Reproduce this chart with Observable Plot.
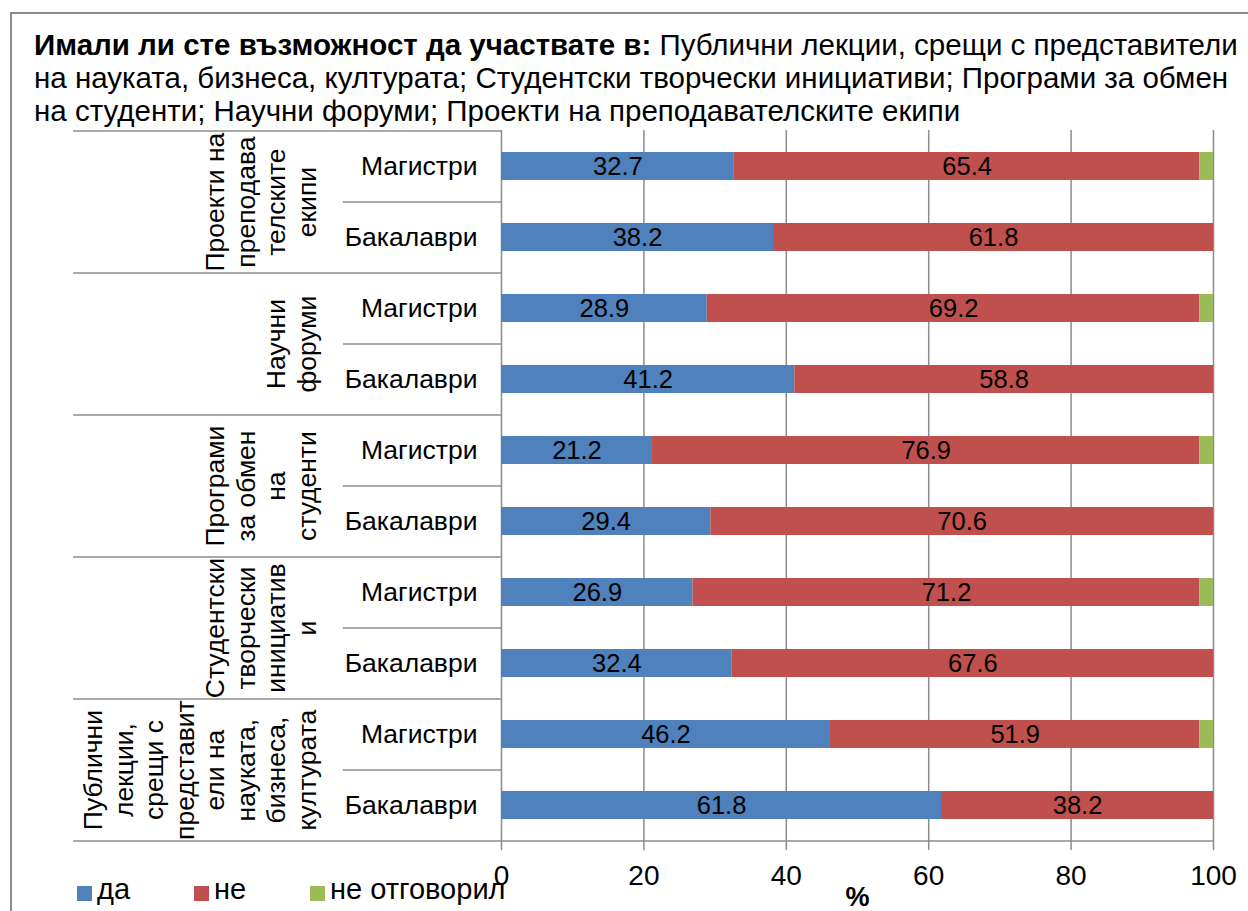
<!DOCTYPE html>
<html>
<head>
<meta charset="utf-8">
<script src="https://cdn.jsdelivr.net/npm/d3@7"></script>
<script src="https://cdn.jsdelivr.net/npm/@observablehq/plot@0.6"></script>
<style>
  html, body { margin: 0; padding: 0; background: #fff; }
  #wrap { position: relative; width: 1248px; height: 911px; overflow: hidden; font-family: "Liberation Sans", Arial, sans-serif; color: #000; }
  #frame { position: absolute; left: 10px; top: 12px; width: 1400px; height: 1100px; border: 2px solid #8c8c8c; box-sizing: border-box; }
  #title { position: absolute; left: 34px; top: 28px; width: 1214px; font-size: 29.5px; line-height: 33px; white-space: nowrap; }
  #title b { font-weight: bold; }
  #chart { position: absolute; left: 0; top: 0; }
  #legend { position: absolute; left: 0; top: 0; font-size: 29px; line-height: 29px; white-space: nowrap; }
  .sw { position: absolute; top: 886px; width: 15px; height: 15px; }
  .lab { position: absolute; top: 875px; }
</style>
</head>
<body>
<div id="wrap">
  <div id="frame"></div>
  <div id="chart"></div>
  <div id="title"><b>Имали ли сте възможност да участвате в:</b> Публични лекции, срещи с представители<br>на науката, бизнеса, културата; Студентски творчески инициативи; Програми за обмен<br>на студенти; Научни форуми; Проекти на преподавателските екипи</div>
  <div id="legend"></div>
</div>
<script>
const groups = [
  "Проекти на преподавателските екипи",
  "Научни форуми",
  "Програми за обмен на студенти",
  "Студентски творчески инициативи",
  "Публични лекции, срещи с представители на науката, бизнеса, културата"
];
const groupLabels = [
  "Проекти на\nпреподава\nтелските\nекипи",
  "Научни\nфоруми",
  "Програми\nза обмен\nна\nстуденти",
  "Студентски\nтворчески\nинициатив\nи",
  "Публични\nлекции,\nсрещи с\nпредставит\nели на\nнауката,\nбизнеса,\nкултурата"
];
const levels = ["Магистри", "Бакалаври"];
const answers = ["да", "не", "не отговорил"];
const colors = ["#4F81BD", "#C0504D", "#9BBB59"];
// order: group by group, Магистри then Бакалаври
const yesValues = [32.7, 38.2, 28.9, 41.2, 21.2, 29.4, 26.9, 32.4, 46.2, 61.8];
const noValues = [65.4, 61.8, 69.2, 58.8, 76.9, 70.6, 71.2, 67.6, 51.9, 38.2];
const noAnswerValues = [1.9, 0, 1.9, 0, 1.9, 0, 1.9, 0, 1.9, 0];
const xTicks = [0, 20, 40, 60, 80, 100];

const keys = [];
groups.forEach(g => levels.forEach(l => keys.push(g + "|" + l)));
const series = [yesValues, noValues, noAnswerValues];
const data = [];
keys.forEach((k, i) => answers.forEach((a, j) => data.push({key: k, answer: a, value: series[j][i]})));

const W = 1248, H = 911, mT = 130, mB = 69, mL = 501, mR = 35;
const padIn = 0.6, padOut = 0.3;
const step = (H - mT - mB) / (keys.length - padIn + 2 * padOut);
const grid = "#8c8c8c";
const font = "Liberation Sans, Arial, sans-serif";

const topKeys = groups.map(g => g + "|" + levels[0]);
const lowKeys = groups.map(g => g + "|" + levels[1]);
const groupData = groups.map((g, i) => ({key: topKeys[i], label: groupLabels[i]}));

const chart = Plot.plot({
  width: W, height: H,
  marginTop: mT, marginBottom: mB, marginLeft: mL, marginRight: mR,
  style: {fontFamily: font, color: "#000", background: "transparent", overflow: "visible"},
  x: {domain: [0, 100], ticks: xTicks, label: null},
  y: {domain: keys, paddingInner: padIn, paddingOuter: padOut, align: 0.5, label: null},
  color: {domain: answers, range: colors},
  marks: [
    Plot.ruleX(xTicks, {stroke: grid, strokeWidth: 1.5, insetBottom: -8}),
    Plot.ruleY(topKeys, {dy: -step / 2, x1: -60.1, x2: 0, stroke: grid, strokeWidth: 1.5}),
    Plot.ruleY(lowKeys, {dy: -step / 2, x1: -22.2, x2: 0, stroke: grid, strokeWidth: 1.5}),
    Plot.ruleY([keys[keys.length - 1]], {dy: step / 2, x1: -60.1, x2: 100, stroke: grid, strokeWidth: 1.5}),
    Plot.barX(data, {x: "value", y: "key", fill: "answer", order: answers}),
    Plot.text(data.filter(d => d.answer !== answers[2] && d.value > 0),
      Plot.stackX({x: "value", y: "key", z: "answer", order: answers, text: d => d.value.toFixed(1), fontSize: 25.5, fill: "#000"})),
    Plot.axisY({tickSize: 0, tickPadding: 24, tickFormat: k => k.split("|")[1], fontSize: 26.5, fill: "#000"}),
    Plot.axisX({ticks: xTicks, tickSize: 0, tickPadding: 23, fontSize: 28, fill: "#000", label: null}),
    Plot.text(groupData, {y: "key", text: "label", dy: step / 2, frameAnchor: "left", dx: -186, rotate: -90,
      lineAnchor: "bottom", textAnchor: "middle", lineHeight: 1.15, fontSize: 26.5, fill: "#000"}),
    Plot.text([50], {x: d => d, text: () => "%", frameAnchor: "bottom", dy: 63, fontSize: 27, fontWeight: "bold", fill: "#000"})
  ]
});
document.getElementById("chart").appendChild(chart);

const legend = document.getElementById("legend");
const swatchX = [77, 194, 310];
answers.forEach((a, i) => {
  const sw = document.createElement("div");
  sw.className = "sw";
  sw.style.left = swatchX[i] + "px";
  sw.style.background = colors[i];
  const lab = document.createElement("div");
  lab.className = "lab";
  lab.style.left = (swatchX[i] + 20) + "px";
  lab.textContent = a;
  legend.appendChild(sw);
  legend.appendChild(lab);
});
</script>
</body>
</html>
